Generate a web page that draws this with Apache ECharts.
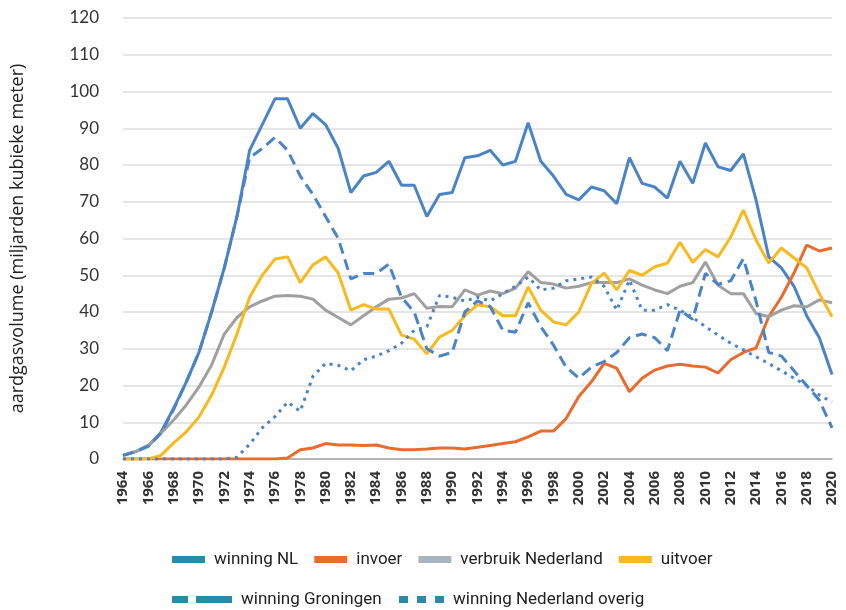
<!DOCTYPE html>
<html>
<head>
<meta charset="utf-8">
<title>Aardgas</title>
<script src="https://cdn.jsdelivr.net/npm/echarts@6/dist/echarts.min.js"></script>
<style>
    html, body { margin: 0; padding: 0; background: #ffffff; }
    #chart { width: 846px; height: 610px; }
</style>
</head>
<body>
<div id="chart"></div>
<script>
/* global echarts */

var years = [];
for (var y = 1964; y <= 2020; y++) {
    years.push(String(y));
}

// miljarden m3, per jaar 1964 - 2020
var winningNL = [
    1, 2, 3.5, 7.3, 13.8, 21, 29, 40, 52, 66,
    84, 91, 98, 98, 90, 94, 91, 84.5, 72.5, 77,
    78, 81, 74.5, 74.5, 66, 72, 72.5, 82, 82.5, 84,
    80, 81, 91.5, 81, 77, 72, 70.5, 74, 73, 69.5,
    82, 75, 74, 71, 81, 75, 86, 79.5, 78.5, 83,
    70.5, 55, 52, 47, 39, 33, 23
];
var invoer = [
    0, 0, 0, 0, 0, 0, 0, 0, 0, 0,
    0, 0, 0, 0.3, 2.5, 3, 4.2, 3.8, 3.8, 3.7,
    3.8, 3, 2.5, 2.5, 2.7, 3, 3, 2.7, 3.2, 3.7,
    4.2, 4.7, 6, 7.6, 7.6, 11, 17, 21, 26, 24.7,
    18.3, 22, 24.2, 25.3, 25.8, 25.3, 25, 23.4, 27, 29,
    30.2, 38.7, 44, 50.6, 58.2, 56.6, 57.4
];
var verbruik = [
    1, 2, 3.8, 7, 10.6, 14.7, 19.6, 25.6, 34, 38.5,
    41.4, 43, 44.3, 44.5, 44.3, 43.5, 40.5, 38.5, 36.5, 39,
    41.4, 43.5, 43.8, 45, 41, 41.5, 41.4, 46, 44.6, 45.7,
    45, 46.5, 51, 48, 47.6, 46.5, 47, 48, 48, 48,
    49, 47.3, 46, 45, 47, 48, 53.6, 47.3, 45, 45,
    39.6, 38.7, 40.5, 41.7, 41.4, 43.3, 42.5
];
var uitvoer = [
    0, 0, 0, 1, 4.4, 7.4, 11.4, 17.4, 25, 34,
    44, 50, 54.4, 55, 48, 52.8, 55, 50.6, 40.5, 42,
    40.8, 40.8, 33.7, 32.6, 28.6, 33.2, 35, 39, 42, 41.4,
    39, 39, 46.8, 40.5, 37.3, 36.5, 40, 47.8, 50.6, 46,
    51.3, 50, 52.3, 53.3, 59, 53.5, 57, 55, 60.4, 67.7,
    59.6, 53.3, 57.4, 54.7, 52, 45, 38.7
];
var winningGroningen = [
    1, 2, 3.5, 7, 13.5, 21, 29, 40, 52, 66,
    82, 84.5, 87.5, 84, 77, 72, 66, 60, 49, 50.5,
    50.5, 53, 44, 40, 30, 28, 29, 40, 43, 41.5,
    35, 34.5, 42.5, 36, 31, 25, 22, 25, 26.5, 29,
    33, 34, 33, 29.5, 40.5, 38, 50.5, 47.5, 48.5, 54.5,
    43, 29, 28, 24, 20, 16, 8.5
];
var winningOverig = [
    0, 0, 0, 0, 0, 0, 0, 0, 0, 0.5,
    4, 8.5, 11.5, 15.5, 13, 22.5, 26, 25.5, 24, 27,
    28, 29.5, 31.5, 35, 36, 44.5, 44, 43, 44, 43,
    45, 47, 49.5, 46, 46.5, 48.5, 49, 49.5, 47, 40.5,
    48.7, 40.5, 40.5, 42, 40.5, 38.5, 36, 33.7, 31.5, 29.7,
    27.8, 26, 24, 22, 20, 17.4, 15.5
];

var colors = {
    blue: '#4a84c6',
    orange: '#ea6b2d',
    grey: '#a0a0a0',
    yellow: '#f8b91e',
    legendBlue: '#2c8aa9',
    legendGrey: '#a9b4be'
};

var myChart = echarts.init(document.getElementById('chart'), null, {renderer: 'canvas'});

var legendText = {
    fontFamily: 'Roboto',
    fontSize: 17,
    color: '#222222',
    padding: [0, 0, 0, 4]
};

var option = {
    animation: false,
    backgroundColor: '#ffffff',
    grid: {
        left: 123,
        right: 14,
        top: 18,
        bottom: 151
    },
    legend: [
        {
            left: 167,
            top: 546,
            icon: 'rect',
            itemWidth: 33,
            itemHeight: 7,
            itemGap: 16,
            textStyle: legendText,
            data: [
                {name: 'winning NL', itemStyle: {color: colors.legendBlue}},
                {name: 'invoer', itemStyle: {color: colors.orange}},
                {name: 'verbruik Nederland', itemStyle: {color: colors.legendGrey}},
                {name: 'uitvoer', itemStyle: {color: colors.yellow}}
            ]
        },
        {
            left: 167,
            top: 586,
            itemWidth: 60,
            itemHeight: 7,
            textStyle: legendText,
            data: [{
                name: 'winning Groningen',
                icon: 'path://M0,0H16V7H0Z M24,0H60V7H24Z',
                itemStyle: {color: colors.legendBlue}
            }]
        },
        {
            left: 394,
            top: 586,
            itemWidth: 45,
            itemHeight: 7,
            textStyle: legendText,
            data: [{
                name: 'winning Nederland overig',
                icon: 'path://M0,0H9V7H0Z M18,0H27V7H18Z M36,0H45V7H36Z',
                itemStyle: {color: colors.legendBlue}
            }]
        }
    ],
    xAxis: {
        type: 'category',
        data: years,
        boundaryGap: false,
        axisLine: {lineStyle: {color: '#a6a6a6', width: 1.5}},
        axisTick: {show: false},
        axisLabel: {
            interval: 1,
            rotate: 90,
            margin: 12,
            fontFamily: 'Open Sans',
            fontWeight: 'bold',
            fontSize: 15,
            color: '#333333'
        }
    },
    yAxis: {
        type: 'value',
        min: 0,
        max: 120,
        interval: 10,
        name: 'aardgasvolume (miljarden kubieke meter)',
        nameLocation: 'middle',
        nameGap: 96,
        nameTextStyle: {
            fontFamily: 'Open Sans',
            fontSize: 18,
            color: '#222222'
        },
        axisLine: {show: false},
        axisTick: {show: false},
        axisLabel: {
            margin: 24,
            fontFamily: 'Lato',
            fontSize: 17,
            color: '#333333'
        },
        splitLine: {lineStyle: {color: '#dcdcdc', width: 1.5}}
    },
    series: [
        {
            name: 'winning NL',
            type: 'line',
            data: winningNL,
            symbol: 'none',
            color: colors.blue,
            lineStyle: {width: 3, color: colors.blue}
        },
        {
            name: 'invoer',
            type: 'line',
            data: invoer,
            symbol: 'none',
            color: colors.orange,
            lineStyle: {width: 3, color: colors.orange}
        },
        {
            name: 'verbruik Nederland',
            type: 'line',
            data: verbruik,
            symbol: 'none',
            color: colors.grey,
            lineStyle: {width: 3, color: colors.grey}
        },
        {
            name: 'uitvoer',
            type: 'line',
            data: uitvoer,
            symbol: 'none',
            color: colors.yellow,
            lineStyle: {width: 3, color: colors.yellow}
        },
        {
            name: 'winning Groningen',
            type: 'line',
            data: winningGroningen,
            symbol: 'none',
            color: colors.blue,
            lineStyle: {width: 3, color: colors.blue, type: [11, 6]}
        },
        {
            name: 'winning Nederland overig',
            type: 'line',
            data: winningOverig,
            symbol: 'none',
            color: colors.blue,
            lineStyle: {width: 3, color: colors.blue, type: [3, 5], cap: 'butt'}
        }
    ]
};

myChart.setOption(option);
</script>
</body>
</html>
